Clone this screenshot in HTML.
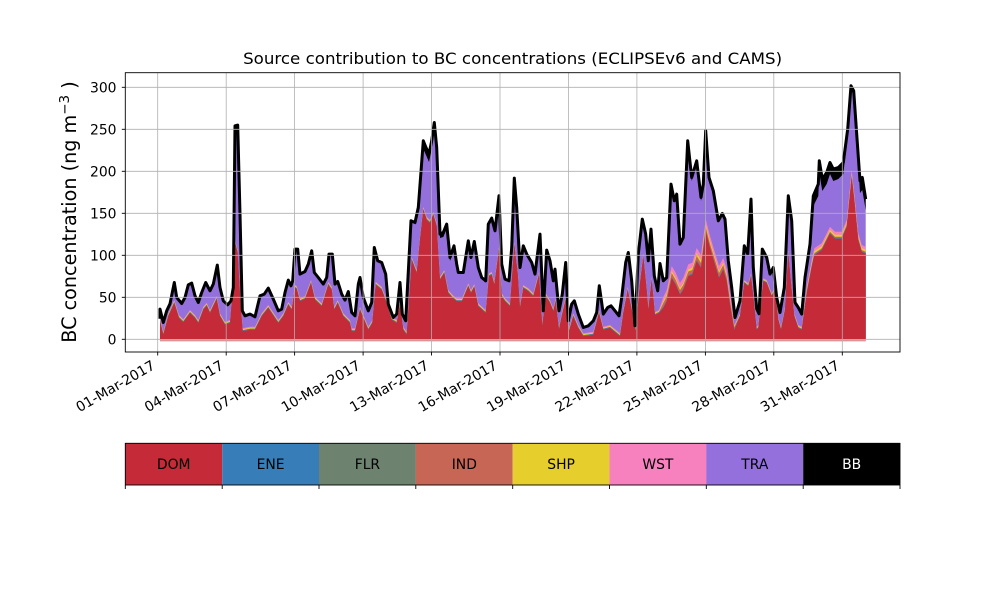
<!DOCTYPE html>
<html>
<head>
<meta charset="utf-8">
<style>
html,body{margin:0;padding:0;background:#fff;}
svg{display:block;}
text{font-family:"DejaVu Sans","Liberation Sans",sans-serif;fill:#000;}
</style>
</head>
<body>
<svg width="1000" height="600" viewBox="0 0 1000 600" xmlns="http://www.w3.org/2000/svg">
<rect x="0" y="0" width="1000" height="600" fill="#fff"/>

<!-- TRA (purple) up to total -->
<polygon fill="#9370db" points="160,339.3 160,308.3 163.3,321.7 166.7,310 170,303 174.3,281.7 176.7,296.7 181.7,302.7 185,296.7 188.3,284 191.7,282.3 195,295 198.3,301.7 201.7,291.7 205.7,281.7 210,290 213.3,283.3 217.3,264.3 220,286.7 223.3,300 227.7,304 231,300 233.3,286.7 235,125 237.7,124.3 240,213.3 242.3,310 245,315 250,313.3 255,316 260,295 264.3,293.3 268.3,287.3 273.3,298.3 278.3,310 281.7,308.3 285,291.7 288.3,279.3 291,285 292.7,280 295,248.3 297.7,248.3 300,273.3 305,270.7 308.3,263.3 311.7,250 314.3,271.7 318.3,276.7 323.3,283.3 326.7,276.7 329,253.3 332.3,253.3 335,283.3 337.7,280.7 341.7,293.3 345,299.3 348.3,290.7 351.7,311.7 355,315 358.3,283.3 360,276.7 363.3,296.7 368.3,310 371.7,301.7 374.3,246.7 377.7,260 381.7,261.7 385.7,273.3 388.3,303.3 393.3,316.7 396.7,313.3 400,281.7 402.3,313.3 405.7,320 411,220 415,221.7 418.3,206.7 423.3,140 426,146.7 429,153.3 431.7,140 434.3,121.7 436.7,146.7 440,233.3 443.3,231.7 446.7,223.3 450,256.7 454,245 456.7,263.3 458.3,271.7 463.3,271.7 468.3,240 471,256.7 474.3,240.7 478.3,266.7 481.7,276.7 485.7,280 488.3,223.3 491.7,217.3 495,230 499,195 501.7,263.3 505,278.3 509,280 511.7,246.7 514.3,177.3 516.7,206.7 520,266.7 523.3,245 526.7,253.3 531.7,261.7 535,273.3 540,233.3 543.3,310 546.7,249.3 550,260 553.3,280 555,268.3 559,310 562.3,293.3 565.7,261.7 568.3,320 571.7,303.3 574.3,300 578.3,313.3 583.3,326.7 588.3,325 593.3,320 596.7,311.7 599.3,285 603.3,313.3 607.7,306.7 611,305 615,310 619,315 621.7,296.7 625.7,261.7 628.3,251.7 631.7,280 635,325 638.3,253.3 642.3,218.3 645.7,233.3 648.3,260 651,228.3 654.3,275 657.7,290 660,262.7 663.3,280 666.7,276.7 671,183.3 674.3,200 676.7,193.3 680,243.3 683.3,236.7 687.7,140 691.7,176.7 696.7,160 701,196.7 703.3,183.3 705.7,130 709,176.7 713.3,190 718.3,220 722.3,212.7 725,218.3 728.3,260 731.7,286.7 735,316.7 740,300 744.3,245 747.7,253.3 751,198.3 753.3,266.7 756.7,308 759,313 762.3,248.3 766.7,256.7 770,273.3 773.3,266.7 776.7,296.7 780,311.7 784.3,286.7 788.3,195 791.7,220 795,301.7 798.3,306.7 801.7,313.3 805,276.7 810,243.3 813.3,195 818.3,183.3 819.3,160 822.3,178.3 826.7,171.7 830,161.7 833.3,168.3 838.3,166.7 843.3,161.7 847.7,128.3 851,85 853.7,90 856.7,133.3 860,180 862.3,176.7 865.7,198.3 865.7,339.3"/>

<!-- WST (pink) -->
<polygon fill="#f781bf" points="160,339.3 160,318.3 163.3,331.7 168.3,313.3 174.3,300 179,315 183.3,319.3 190,310 195,315 198.3,320 203.3,306.7 206.7,302.7 210,310 216.7,296 220,313.3 225,321.7 230,320 233.3,280 235,240 237.7,250 240.3,296.7 242.7,328.3 250,326.7 255,326.7 261.7,313.3 268.3,305 278.3,320 283.3,313.3 288.3,301.7 291.7,306.7 295,285 296.7,286 300,298.3 305,296 311,280 315,296.7 321.7,303.3 328.3,281.7 331.7,286.7 334.3,306.7 337.7,300 343.3,313.3 350,320 351.7,328.3 355,328.3 360,306.7 363.3,315 368.3,326.7 372.3,320 375.7,281.7 381.7,286.7 386.7,300 391.7,316.7 396.7,320 400,301.7 403.3,326.7 406.7,331.7 411.7,256.7 416.7,270 420,236.7 423.3,206.7 426.7,216.7 430,220 433.3,211.7 436.7,223.3 440,276.7 444.3,270 448.3,290 452.7,295 456.7,298.3 462,298.3 468.3,283.3 471,290 474.3,284 478.3,303.3 485.7,310 489,273.3 491.7,271.7 494.3,281.7 499,246.7 501.7,293.3 505,298.3 510,303.3 514.3,241.7 517.7,270 520,305 523.3,285 528.3,288.3 533.3,293.3 539,271.7 542.3,323.3 545.7,293.3 550,300 553.3,308.3 555.7,298.3 559,326.7 561.7,313.3 565.7,296.7 569,328.3 573.3,313.3 578.3,325 583.3,333.3 593.3,331.7 599,310 603.3,326.7 610,325 620,333.3 623.3,310 627.7,286.7 631.7,306.7 635.7,328.3 640,280 643.3,253.3 646.7,286.7 648.3,306.7 651.7,276.7 655,312 659,310 663.3,297 666.7,290 671.7,266 675.7,272.7 680,282.7 683.3,277.7 688.3,264.3 692.3,262.7 696.7,248 701,255 705.7,219 710,236 715,252.7 719,266 723.3,257.7 726.7,269.3 730,293 734.3,325 740,313.3 744.3,280 748.3,283.3 751,273.3 753.3,293.3 756.7,326.7 758.3,325 763.3,278.3 766.7,280 771.7,293.3 775,286.7 778.3,316.7 781,326.7 785,306.7 788.3,250 791,280 794.3,313.3 798.3,325 801.7,326.7 806.7,286.7 811.7,260 814.3,248.3 821.7,243.3 830,226.7 835,231.7 841.7,231.7 846.7,220 851.7,170 854.3,193.3 858.3,233.3 861.7,245 865.7,246.7 865.7,339.3"/>

<!-- SHP (yellow) -->
<polygon fill="#e6cf2c" transform="translate(0,1)" points="160,339.3 160,318.3 163.3,331.7 168.3,313.3 174.3,300 179,315 183.3,319.3 190,310 195,315 198.3,320 203.3,306.7 206.7,302.7 210,310 216.7,296 220,313.3 225,321.7 230,320 233.3,280 235,240 237.7,250 240.3,296.7 242.7,328.3 250,326.7 255,326.7 261.7,313.3 268.3,305 278.3,320 283.3,313.3 288.3,301.7 291.7,306.7 295,285 296.7,286 300,298.3 305,296 311,280 315,296.7 321.7,303.3 328.3,281.7 331.7,286.7 334.3,306.7 337.7,300 343.3,313.3 350,320 351.7,328.3 355,328.3 360,306.7 363.3,315 368.3,326.7 372.3,320 375.7,281.7 381.7,286.7 386.7,300 391.7,316.7 396.7,320 400,301.7 403.3,326.7 406.7,331.7 411.7,256.7 416.7,270 420,236.7 423.3,206.7 426.7,216.7 430,220 433.3,211.7 436.7,223.3 440,276.7 444.3,270 448.3,290 452.7,295 456.7,298.3 462,298.3 468.3,283.3 471,290 474.3,284 478.3,303.3 485.7,310 489,273.3 491.7,271.7 494.3,281.7 499,246.7 501.7,293.3 505,298.3 510,303.3 514.3,241.7 517.7,270 520,305 523.3,285 528.3,288.3 533.3,293.3 539,271.7 542.3,323.3 545.7,293.3 550,300 553.3,308.3 555.7,298.3 559,326.7 561.7,313.3 565.7,296.7 569,328.3 573.3,313.3 578.3,325 583.3,333.3 593.3,331.7 599,310 603.3,326.7 610,325 620,333.3 623.3,310 627.7,286.7 631.7,306.7 635.7,328.3 640,280 643.3,253.3 646.7,286.7 648.3,306.7 651.7,276.7 655,312 659,310 663.3,300 666.7,293 671.7,270 675.7,277 680,287 683.3,282 688.3,268.3 692.3,266.7 696.7,252 701,259 705.7,223 710,240 715,256.7 719,270 723.3,261.7 726.7,273.3 730,296.7 734.3,325 740,313.3 744.3,280 748.3,283.3 751,273.3 753.3,293.3 756.7,326.7 758.3,325 763.3,278.3 766.7,280 771.7,293.3 775,286.7 778.3,316.7 781,326.7 785,306.7 788.3,250 791,280 794.3,313.3 798.3,325 801.7,326.7 806.7,288 811.7,262 814.3,250.3 821.7,245.3 830,228.7 835,233.7 841.7,233.7 846.7,222 851.7,172 854.3,195.3 858.3,235.3 861.7,247 865.7,248.7 865.7,339.3"/>

<!-- IND (brownish orange) -->
<polygon fill="#c86655" transform="translate(0,2)" points="160,339.3 160,318.3 163.3,331.7 168.3,313.3 174.3,300 179,315 183.3,319.3 190,310 195,315 198.3,320 203.3,306.7 206.7,302.7 210,310 216.7,296 220,313.3 225,321.7 230,320 233.3,280 235,240 237.7,250 240.3,296.7 242.7,328.3 250,326.7 255,326.7 261.7,313.3 268.3,305 278.3,320 283.3,313.3 288.3,301.7 291.7,306.7 295,285 296.7,286 300,298.3 305,296 311,280 315,296.7 321.7,303.3 328.3,281.7 331.7,286.7 334.3,306.7 337.7,300 343.3,313.3 350,320 351.7,328.3 355,328.3 360,306.7 363.3,315 368.3,326.7 372.3,320 375.7,281.7 381.7,286.7 386.7,300 391.7,316.7 396.7,320 400,301.7 403.3,326.7 406.7,331.7 411.7,256.7 416.7,270 420,236.7 423.3,206.7 426.7,216.7 430,220 433.3,211.7 436.7,223.3 440,276.7 444.3,270 448.3,290 452.7,295 456.7,298.3 462,298.3 468.3,283.3 471,290 474.3,284 478.3,303.3 485.7,310 489,273.3 491.7,271.7 494.3,281.7 499,246.7 501.7,293.3 505,298.3 510,303.3 514.3,241.7 517.7,270 520,305 523.3,285 528.3,288.3 533.3,293.3 539,271.7 542.3,323.3 545.7,293.3 550,300 553.3,308.3 555.7,298.3 559,326.7 561.7,313.3 565.7,296.7 569,328.3 573.3,313.3 578.3,325 583.3,333.3 593.3,331.7 599,310 603.3,326.7 610,325 620,333.3 623.3,310 627.7,286.7 631.7,306.7 635.7,328.3 640,280 643.3,253.3 646.7,286.7 648.3,306.7 651.7,276.7 655,312 659,310 663.3,301 666.7,294.5 671.7,271 675.7,278 680,288 683.3,283 688.3,269.5 692.3,268 696.7,254 701,261 705.7,225 710,242 715,258 719,271 723.3,263 726.7,275 730,298 734.3,325 740,313.3 744.3,280 748.3,283.3 751,273.3 753.3,293.3 756.7,326.7 758.3,325 763.3,278.3 766.7,280 771.7,293.3 775,286.7 778.3,316.7 781,326.7 785,306.7 788.3,250 791,280 794.3,313.3 798.3,325 801.7,326.7 806.7,289 811.7,263 814.3,251.3 821.7,246.3 830,229.7 835,234.7 841.7,234.7 846.7,223 851.7,173 854.3,196.3 858.3,236.3 861.7,248 865.7,249.7 865.7,339.3"/>

<!-- ENE/FLR thin band -->
<polygon fill="#4a7d98" transform="translate(0,-1)" points="160,339.3 160,321.3 163.3,334.7 168.3,316.3 174.3,303 179,318 183.3,322.3 190,313 195,318 198.3,323 203.3,309.7 206.7,305.7 210,313 216.7,299 220,316.3 225,324.7 230,323 233.3,283 235,243 237.7,253 240.3,299.7 242.7,331.3 250,329.7 255,329.7 261.7,316.3 268.3,308 278.3,323 283.3,316.3 288.3,304.7 291.7,309.7 295,288 296.7,289 300,301.3 305,299 311,283 315,299.7 321.7,306.3 328.3,284.7 331.7,289.7 334.3,309.7 337.7,303 343.3,316.3 350,323 351.7,331.3 355,331.3 360,309.7 363.3,318 368.3,329.7 372.3,323 375.7,284.7 381.7,289.7 386.7,303 391.7,319.7 396.7,323 400,304.7 403.3,329.7 406.7,334.7 411.7,259.7 416.7,273 420,239.7 423.3,209.7 426.7,219.7 430,223 433.3,214.7 436.7,226.3 440,279.7 444.3,273 448.3,293 452.7,298 456.7,301.3 462,301.3 468.3,286.3 471,293 474.3,287 478.3,306.3 485.7,313 489,276.3 491.7,274.7 494.3,284.7 499,249.7 501.7,296.3 505,301.3 510,306.3 514.3,244.7 517.7,273 520,308 523.3,288 528.3,291.3 533.3,296.3 539,274.7 542.3,326.3 545.7,296.3 550,303 553.3,311.3 555.7,301.3 559,329.7 561.7,316.3 565.7,299.7 569,331.3 573.3,316.3 578.3,328 583.3,336.3 593.3,334.7 599,313 603.3,329.7 610,328 620,336.3 623.3,313 627.7,289.7 631.7,309.7 635.7,331.3 640,283 643.3,256.3 646.7,289.7 648.3,309.7 651.7,279.7 655,315 659,313 663.3,308 666.7,301.3 671.7,278 675.7,284.7 680,294.7 683.3,289.7 688.3,276.3 692.3,274.7 696.7,261.3 701,268 705.7,231.3 710,248 715,264.7 719,278 723.3,269.7 726.7,281.3 730,304.7 734.3,330 740,316.3 744.3,283 748.3,286.3 751,276.3 753.3,296.3 756.7,329.7 758.3,328 763.3,281.3 766.7,283 771.7,296.3 775,289.7 778.3,319.7 781,329.7 785,309.7 788.3,253 791,283 794.3,316.3 798.3,328 801.7,329.7 806.7,293.7 811.7,267 814.3,255.3 821.7,250.3 830,233.7 835,238.7 841.7,238.7 846.7,227 851.7,177 854.3,200.3 858.3,240.3 861.7,252 865.7,253.7 865.7,339.3"/>

<!-- DOM (red) -->
<polygon fill="#c42a38" points="160,339.3 160,321.3 163.3,334.7 168.3,316.3 174.3,303 179,318 183.3,322.3 190,313 195,318 198.3,323 203.3,309.7 206.7,305.7 210,313 216.7,299 220,316.3 225,324.7 230,323 233.3,283 235,243 237.7,253 240.3,299.7 242.7,331.3 250,329.7 255,329.7 261.7,316.3 268.3,308 278.3,323 283.3,316.3 288.3,304.7 291.7,309.7 295,288 296.7,289 300,301.3 305,299 311,283 315,299.7 321.7,306.3 328.3,284.7 331.7,289.7 334.3,309.7 337.7,303 343.3,316.3 350,323 351.7,331.3 355,331.3 360,309.7 363.3,318 368.3,329.7 372.3,323 375.7,284.7 381.7,289.7 386.7,303 391.7,319.7 396.7,323 400,304.7 403.3,329.7 406.7,334.7 411.7,259.7 416.7,273 420,239.7 423.3,209.7 426.7,219.7 430,223 433.3,214.7 436.7,226.3 440,279.7 444.3,273 448.3,293 452.7,298 456.7,301.3 462,301.3 468.3,286.3 471,293 474.3,287 478.3,306.3 485.7,313 489,276.3 491.7,274.7 494.3,284.7 499,249.7 501.7,296.3 505,301.3 510,306.3 514.3,244.7 517.7,273 520,308 523.3,288 528.3,291.3 533.3,296.3 539,274.7 542.3,326.3 545.7,296.3 550,303 553.3,311.3 555.7,301.3 559,329.7 561.7,316.3 565.7,299.7 569,331.3 573.3,316.3 578.3,328 583.3,336.3 593.3,334.7 599,313 603.3,329.7 610,328 620,336.3 623.3,313 627.7,289.7 631.7,309.7 635.7,331.3 640,283 643.3,256.3 646.7,289.7 648.3,309.7 651.7,279.7 655,315 659,313 663.3,308 666.7,301.3 671.7,278 675.7,284.7 680,294.7 683.3,289.7 688.3,276.3 692.3,274.7 696.7,261.3 701,268 705.7,231.3 710,248 715,264.7 719,278 723.3,269.7 726.7,281.3 730,304.7 734.3,330 740,316.3 744.3,283 748.3,286.3 751,276.3 753.3,296.3 756.7,329.7 758.3,328 763.3,281.3 766.7,283 771.7,296.3 775,289.7 778.3,319.7 781,329.7 785,309.7 788.3,253 791,283 794.3,316.3 798.3,328 801.7,329.7 806.7,293.7 811.7,267 814.3,255.3 821.7,250.3 830,233.7 835,238.7 841.7,238.7 846.7,227 851.7,177 854.3,200.3 858.3,240.3 861.7,252 865.7,253.7 865.7,339.3"/>

<!-- BB (black) thicker bands as filled polygons -->
<g fill="#000">
<polygon points="415,221.7 418.3,206.7 423.3,140 426,146.7 429,153.3 431.7,140 434.3,121.7 436.7,146.7 440,233.3 443.3,231.7 446.7,223.3 450,256.7 454,245 456.7,263.3 456.7,267 454,250 450,261 446.7,229 443.3,237 440,238 436.7,155 434.3,130 431.7,149 429,162 426,155 423.3,149 418.3,213 415,225"/>
<polygon points="683.3,236.7 687.7,140 691.7,176.7 696.7,160 701,196.7 703.3,183.3 705.7,130 709,176.7 713.3,190 713.3,194 709,181 705.7,135 703.3,188 701,201 696.7,165 691.7,181 687.7,145 683.3,240"/>
<polygon points="810,243.3 813.3,195 818.3,183.3 819.3,160 822.3,178.3 826.7,171.7 830,161.7 833.3,168.3 838.3,166.7 843.3,161.7 847.7,128.3 851,85 853.7,90 856.7,133.3 860,180 862.3,176.7 865.7,198.3 865.7,210 862.3,190 860,193 856.7,139 853.7,95 851,90 847.7,135 843.3,174 838.3,179 833.3,181 830,174 826.7,184 822.3,191 819.3,173 818.3,196 813.3,206 810,247"/>
</g>

<!-- BB top line -->
<polyline fill="none" stroke="#000" stroke-width="3" stroke-linejoin="round" transform="translate(0,0.8)" points="160,318 160,308.3 163.3,321.7 166.7,310 170,303 174.3,281.7 176.7,296.7 181.7,302.7 185,296.7 188.3,284 191.7,282.3 195,295 198.3,301.7 201.7,291.7 205.7,281.7 210,290 213.3,283.3 217.3,264.3 220,286.7 223.3,300 227.7,304 231,300 233.3,286.7 235,125 237.7,124.3 240,213.3 242.3,310 245,315 250,313.3 255,316 260,295 264.3,293.3 268.3,287.3 273.3,298.3 278.3,310 281.7,308.3 285,291.7 288.3,279.3 291,285 292.7,280 295,248.3 297.7,248.3 300,273.3 305,270.7 308.3,263.3 311.7,250 314.3,271.7 318.3,276.7 323.3,283.3 326.7,276.7 329,253.3 332.3,253.3 335,283.3 337.7,280.7 341.7,293.3 345,299.3 348.3,290.7 351.7,311.7 355,315 358.3,283.3 360,276.7 363.3,296.7 368.3,310 371.7,301.7 374.3,246.7 377.7,260 381.7,261.7 385.7,273.3 388.3,303.3 393.3,316.7 396.7,313.3 400,281.7 402.3,313.3 405.7,320 411,220 415,221.7 418.3,206.7 423.3,140 426,146.7 429,153.3 431.7,140 434.3,121.7 436.7,146.7 440,233.3 443.3,231.7 446.7,223.3 450,256.7 454,245 456.7,263.3 458.3,271.7 463.3,271.7 468.3,240 471,256.7 474.3,240.7 478.3,266.7 481.7,276.7 485.7,280 488.3,223.3 491.7,217.3 495,230 499,195 501.7,263.3 505,278.3 509,280 511.7,246.7 514.3,177.3 516.7,206.7 520,266.7 523.3,245 526.7,253.3 531.7,261.7 535,273.3 540,233.3 543.3,310 546.7,249.3 550,260 553.3,280 555,268.3 559,310 562.3,293.3 565.7,261.7 568.3,320 571.7,303.3 574.3,300 578.3,313.3 583.3,326.7 588.3,325 593.3,320 596.7,311.7 599.3,285 603.3,313.3 607.7,306.7 611,305 615,310 619,315 621.7,296.7 625.7,261.7 628.3,251.7 631.7,280 635,325 638.3,253.3 642.3,218.3 645.7,233.3 648.3,260 651,228.3 654.3,275 657.7,290 660,262.7 663.3,280 666.7,276.7 671,183.3 674.3,200 676.7,193.3 680,243.3 683.3,236.7 687.7,140 691.7,176.7 696.7,160 701,196.7 703.3,183.3 705.7,130 709,176.7 713.3,190 718.3,220 722.3,212.7 725,218.3 728.3,260 731.7,286.7 735,316.7 740,300 744.3,245 747.7,253.3 751,198.3 753.3,266.7 756.7,308 759,313 762.3,248.3 766.7,256.7 770,273.3 773.3,266.7 776.7,296.7 780,311.7 784.3,286.7 788.3,195 791.7,220 795,301.7 798.3,306.7 801.7,313.3 805,276.7 810,243.3 813.3,195 818.3,183.3 819.3,160 822.3,178.3 826.7,171.7 830,161.7 833.3,168.3 838.3,166.7 843.3,161.7 847.7,128.3 851,85 853.7,90 856.7,133.3 860,180 862.3,176.7 865.7,198.3"/>

<!-- zero line strip under data -->
<rect x="160" y="339" width="705.7" height="1.8" fill="#d9a1a8"/>

<!-- grid -->
<g stroke="#b0b0b0" stroke-width="0.8">
<line x1="157.7" y1="72.7" x2="157.7" y2="352"/>
<line x1="226.2" y1="72.7" x2="226.2" y2="352"/>
<line x1="294.6" y1="72.7" x2="294.6" y2="352"/>
<line x1="363.1" y1="72.7" x2="363.1" y2="352"/>
<line x1="431.5" y1="72.7" x2="431.5" y2="352"/>
<line x1="500" y1="72.7" x2="500" y2="352"/>
<line x1="568.5" y1="72.7" x2="568.5" y2="352"/>
<line x1="636.9" y1="72.7" x2="636.9" y2="352"/>
<line x1="705.4" y1="72.7" x2="705.4" y2="352"/>
<line x1="773.8" y1="72.7" x2="773.8" y2="352"/>
<line x1="842.3" y1="72.7" x2="842.3" y2="352"/>
<line x1="125.3" y1="297.3" x2="900" y2="297.3"/>
<line x1="125.3" y1="255.3" x2="900" y2="255.3"/>
<line x1="125.3" y1="213.3" x2="900" y2="213.3"/>
<line x1="125.3" y1="171.3" x2="900" y2="171.3"/>
<line x1="125.3" y1="129.3" x2="900" y2="129.3"/>
<line x1="125.3" y1="87.3" x2="900" y2="87.3"/>
<line x1="125.3" y1="339.3" x2="160" y2="339.3"/>
<line x1="865.7" y1="339.3" x2="900" y2="339.3"/>
</g>

<!-- frame -->
<rect x="125.3" y="72.7" width="774.7" height="279.3" fill="none" stroke="#000" stroke-width="0.9"/>

<!-- ticks -->
<g stroke="#000" stroke-width="0.9">
<line x1="121.8" y1="339.3" x2="125.3" y2="339.3"/>
<line x1="121.8" y1="297.3" x2="125.3" y2="297.3"/>
<line x1="121.8" y1="255.3" x2="125.3" y2="255.3"/>
<line x1="121.8" y1="213.3" x2="125.3" y2="213.3"/>
<line x1="121.8" y1="171.3" x2="125.3" y2="171.3"/>
<line x1="121.8" y1="129.3" x2="125.3" y2="129.3"/>
<line x1="121.8" y1="87.3" x2="125.3" y2="87.3"/>
<line x1="157.7" y1="352" x2="157.7" y2="355.5"/>
<line x1="226.2" y1="352" x2="226.2" y2="355.5"/>
<line x1="294.6" y1="352" x2="294.6" y2="355.5"/>
<line x1="363.1" y1="352" x2="363.1" y2="355.5"/>
<line x1="431.5" y1="352" x2="431.5" y2="355.5"/>
<line x1="500" y1="352" x2="500" y2="355.5"/>
<line x1="568.5" y1="352" x2="568.5" y2="355.5"/>
<line x1="636.9" y1="352" x2="636.9" y2="355.5"/>
<line x1="705.4" y1="352" x2="705.4" y2="355.5"/>
<line x1="773.8" y1="352" x2="773.8" y2="355.5"/>
<line x1="842.3" y1="352" x2="842.3" y2="355.5"/>
</g>

<!-- y tick labels -->
<g font-size="13.9" text-anchor="end">
<text x="116.5" y="344.3">0</text>
<text x="116.5" y="302.3">50</text>
<text x="116.5" y="260.3">100</text>
<text x="116.5" y="218.3">150</text>
<text x="116.5" y="176.3">200</text>
<text x="116.5" y="134.3">250</text>
<text x="116.5" y="92.3">300</text>
</g>

<!-- x tick labels -->
<g font-size="13.9" text-anchor="end">
<text x="156" y="368.2" transform="rotate(-30 156 368.2)">01-Mar-2017</text>
<text x="224.5" y="368.2" transform="rotate(-30 224.5 368.2)">04-Mar-2017</text>
<text x="292.9" y="368.2" transform="rotate(-30 292.9 368.2)">07-Mar-2017</text>
<text x="361.4" y="368.2" transform="rotate(-30 361.4 368.2)">10-Mar-2017</text>
<text x="429.8" y="368.2" transform="rotate(-30 429.8 368.2)">13-Mar-2017</text>
<text x="498.3" y="368.2" transform="rotate(-30 498.3 368.2)">16-Mar-2017</text>
<text x="566.8" y="368.2" transform="rotate(-30 566.8 368.2)">19-Mar-2017</text>
<text x="635.2" y="368.2" transform="rotate(-30 635.2 368.2)">22-Mar-2017</text>
<text x="703.7" y="368.2" transform="rotate(-30 703.7 368.2)">25-Mar-2017</text>
<text x="772.1" y="368.2" transform="rotate(-30 772.1 368.2)">28-Mar-2017</text>
<text x="840.6" y="368.2" transform="rotate(-30 840.6 368.2)">31-Mar-2017</text>
</g>

<!-- title -->
<text x="512.6" y="64" font-size="15.8" text-anchor="middle" textLength="539" lengthAdjust="spacingAndGlyphs">Source contribution to BC concentrations (ECLIPSEv6 and CAMS)</text>

<!-- y label -->
<text x="76" y="212" font-size="19.2" text-anchor="middle" transform="rotate(-90 76 212)">BC concentration (ng m<tspan font-size="13.5" dy="-7">−3</tspan><tspan dy="7"> )</tspan></text>

<!-- colour bar legend -->
<rect x="125.3" y="443.3" width="96.9" height="41.7" fill="#c42a38"/>
<rect x="222.2" y="443.3" width="96.9" height="41.7" fill="#377eb8"/>
<rect x="319" y="443.3" width="96.9" height="41.7" fill="#6e8270"/>
<rect x="415.8" y="443.3" width="96.9" height="41.7" fill="#c86655"/>
<rect x="512.7" y="443.3" width="96.9" height="41.7" fill="#e6cf2c"/>
<rect x="609.5" y="443.3" width="96.9" height="41.7" fill="#f781bf"/>
<rect x="706.3" y="443.3" width="96.9" height="41.7" fill="#9370db"/>
<rect x="803.2" y="443.3" width="96.8" height="41.7" fill="#000"/>
<rect x="125.3" y="443.3" width="774.7" height="41.7" fill="none" stroke="#000" stroke-width="0.9"/>
<g stroke="#000" stroke-width="0.9">
<line x1="125.3" y1="485" x2="125.3" y2="489"/>
<line x1="222.2" y1="485" x2="222.2" y2="489"/>
<line x1="319" y1="485" x2="319" y2="489"/>
<line x1="415.8" y1="485" x2="415.8" y2="489"/>
<line x1="512.7" y1="485" x2="512.7" y2="489"/>
<line x1="609.5" y1="485" x2="609.5" y2="489"/>
<line x1="706.3" y1="485" x2="706.3" y2="489"/>
<line x1="803.2" y1="485" x2="803.2" y2="489"/>
<line x1="900" y1="485" x2="900" y2="489"/>
</g>
<g font-size="13.9" text-anchor="middle">
<text x="173.7" y="469">DOM</text>
<text x="270.6" y="469">ENE</text>
<text x="367.4" y="469">FLR</text>
<text x="464.3" y="469">IND</text>
<text x="561.1" y="469">SHP</text>
<text x="657.9" y="469">WST</text>
<text x="754.8" y="469">TRA</text>
<text x="851.6" y="469" style="fill:#fff">BB</text>
</g>
</svg>
</body>
</html>
